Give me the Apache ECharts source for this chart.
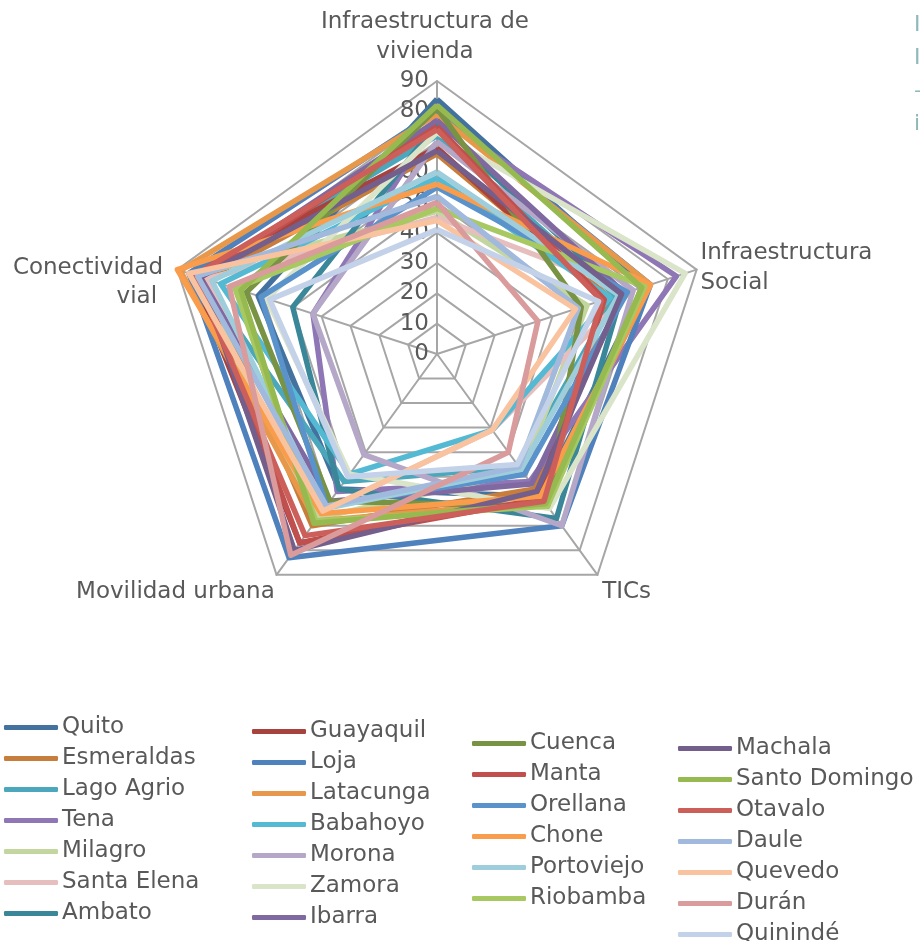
<!DOCTYPE html>
<html>
<head>
<meta charset="utf-8">
<script src="https://cdn.jsdelivr.net/npm/echarts@6/dist/echarts.min.js"></script>
<style>
html,body{margin:0;padding:0;background:#fff;}
#chart{width:920px;height:941px;}
</style>
</head>
<body>
<div id="chart"></div>
<script>
// Indicators (clockwise from top, as in the reference)
const indicatorNames = ['Infraestructura de\nvivienda', 'Infraestructura\nSocial', 'TICs', 'Movilidad urbana', 'Conectividad\nvial'];
const radialTicks = [0, 10, 20, 30, 40, 50, 60, 70, 80, 90];

const cities = ['Quito','Esmeraldas','Lago Agrio','Tena','Milagro','Santa Elena','Ambato',
  'Guayaquil','Loja','Latacunga','Babahoyo','Morona','Zamora','Ibarra',
  'Cuenca','Manta','Orellana','Chone','Portoviejo','Riobamba',
  'Machala','Santo Domingo','Otavalo','Daule','Quevedo','Durán','Quinindé'];

// values per indicator, same order as cities
const vivienda     = [84,66,72,78,47,45,76, 68,80,79,58,70,73,77, 81,75,55,56,60,48, 67,82,74,52,44,50,41];
const social       = [72,60,62,83,52,67,64, 58,74,74,60,68,86,65, 50,58,66,74,63,72, 64,71,57,49,48,35,56];
const tics         = [58,55,46,52,48,31,67, 57,70,60,31,70,63,53, 62,59,49,58,47,62, 56,61,60,46,31,40,45];
const movilidad    = [55,70,52,56,67,64,55, 77,83,68,49,41,49,60, 60,77,62,65,63,68, 80,69,74,62,64,82,50];
const conectividad = [62,80,82,43,84,80,50, 85,86,89,75,43,59,82, 66,82,61,90,78,70, 82,68,84,83,86,72,58];

const colors = ['#44729F','#C77D3C','#4BA7BB','#8F76B5','#C4D6A0','#E6BEBE','#398798',
  '#A8423F','#4F81BD','#E8984B','#54BAD4','#B4A7C8','#DAE4C8','#8068A0',
  '#799344','#C0504D','#5A92CC','#F99D4C','#9ECDDC','#A8C862',
  '#735E8C','#96B950','#CD5F5A','#A0B9DC','#FAC3A0','#D99B9B','#C3D2E8'];

const legendCols = [
  cities.slice(0, 7),
  cities.slice(7, 14),
  cities.slice(14, 20),
  cities.slice(20)
];

const textColor = '#595959';
const fontFamily = 'DejaVu Sans';
const gridColor = '#A6A6A6';

// ECharts places radar indicators counter-clockwise; reorder so the picture runs clockwise
const order = [0, 4, 3, 2, 1];
const nameGaps = [14, 4, 8, 3, 15];
const indicators = order.map(i => ({ name: indicatorNames[i], min: 0, max: radialTicks[radialTicks.length - 1], nameGap: nameGaps[i] }));
indicators[0].axisLabel = { show: true };

// name text layout (rich text lets each label sit like the reference)
function formatName(name) {
  if (name === indicatorNames[0]) return '{c|Infraestructura de}{s| }\n{c|vivienda}{s| }';
  if (name === indicatorNames[1]) return '{n|Infraestructura}\n{n|Social}';
  if (name === indicatorNames[2]) return '{g|}\n{n|TICs}';
  if (name === indicatorNames[3]) return '{g3|}\n{n|Movilidad urbana}';
  if (name === indicatorNames[4]) return '{g2|}\n{n|Conectividad}\n{v|vial}';
  return name;
}

const allValues = [vivienda, social, tics, movilidad, conectividad];

const series = [{
  type: 'radar',
  symbol: 'none',
  silent: true,
  lineStyle: { width: 5.5 },
  data: cities.map((c, k) => ({
    name: c,
    value: order.map(i => allValues[i][k]),
    lineStyle: { color: colors[k], width: 5.5 },
    itemStyle: { color: colors[k] }
  }))
}];

const legendTops = [716, 720, 732, 737];
const legendLefts = [4, 252, 472, 678];
const legends = legendCols.map((col, j) => ({
  orient: 'vertical',
  left: legendLefts[j],
  top: legendTops[j],
  height: 260,
  padding: 0,
  data: col,
  icon: 'roundRect',
  itemWidth: 54,
  itemHeight: 5,
  itemGap: 8,
  selectedMode: false,
  textStyle: { color: textColor, fontSize: 23, fontFamily: fontFamily, padding: [0, 0, 0, -1] }
}));

const chart = echarts.init(document.getElementById('chart'), null, { renderer: 'canvas' });
chart.setOption({
  animation: false,
  color: colors,
  textStyle: { fontFamily: fontFamily },
  legend: legends,
  radar: {
    center: [437, 354],
    radius: 273,
    startAngle: 90,
    shape: 'polygon',
    splitNumber: radialTicks.length - 1,
    axisName: {
      color: textColor, fontSize: 23, fontFamily: fontFamily, lineHeight: 30,
      formatter: formatName,
      rich: {
        c: { fontSize: 23, fontFamily: fontFamily, color: textColor, lineHeight: 30 },
        n: { fontSize: 23, fontFamily: fontFamily, color: textColor, lineHeight: 30 },
        v: { fontSize: 23, fontFamily: fontFamily, color: textColor, lineHeight: 28, padding: [0, 6, 0, 0] },
        s: { width: 24, fontSize: 10, lineHeight: 30 },
        g: { lineHeight: 22, fontSize: 10 },
        g3: { lineHeight: 30, fontSize: 10 },
        g2: { lineHeight: 34, fontSize: 10 }
      }
    },
    axisLine: { lineStyle: { color: gridColor, width: 2 } },
    splitLine: { lineStyle: { color: gridColor, width: 2 } },
    splitArea: { show: false },
    axisTick: { show: false },
    axisLabel: { show: false, color: textColor, fontSize: 23, fontFamily: fontFamily, margin: 8 },
    indicator: indicators
  },
  graphic: [{
    type: 'text',
    left: 914,
    top: 9,
    style: { text: 'I\nI\n–\ni', fill: '#8FB8B8', fontSize: 22, lineHeight: 33, fontFamily: fontFamily }
  }],
  series: series
});
</script>
</body>
</html>
